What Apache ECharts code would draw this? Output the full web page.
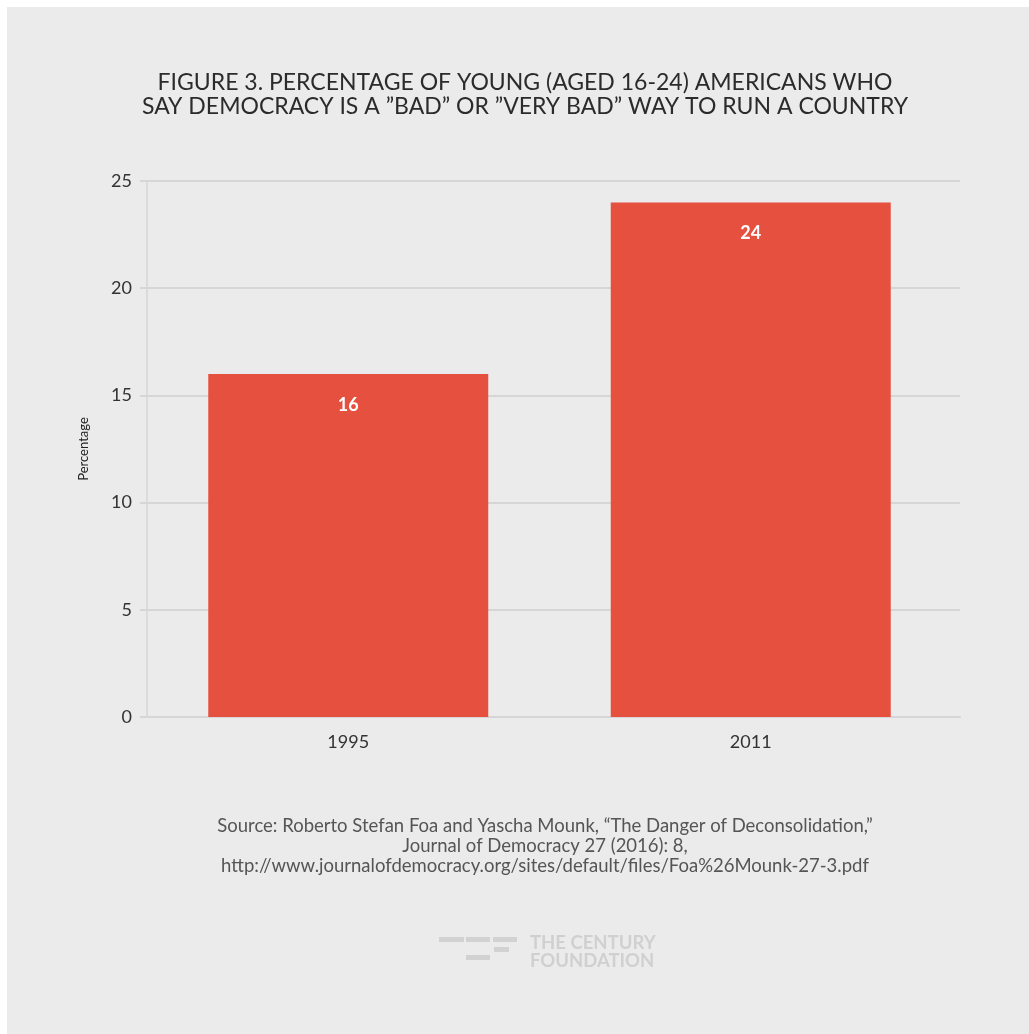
<!DOCTYPE html>
<html>
<head>
<meta charset="utf-8">
<script src="https://cdn.jsdelivr.net/npm/echarts@6/dist/echarts.min.js"></script>
<style>
html,body{margin:0;padding:0;background:#fff;}
#wrap{position:absolute;left:0;top:0;width:1029px;height:1034px;background:#fff;}
#chart{position:absolute;left:7px;top:7px;width:1022px;height:1027px;background:#ebebeb;}
</style>
</head>
<body>
<div id="wrap"><div id="chart"></div></div>
<script>
const categories = ['1995', '2011'];
const values = [16, 24];
const yMin = 0, yMax = 25, yStep = 5;
const titleLines = ['FIGURE 3. PERCENTAGE OF YOUNG (AGED 16-24) AMERICANS WHO', 'SAY DEMOCRACY IS A \u201DBAD\u201D OR \u201DVERY BAD\u201D WAY TO RUN A COUNTRY'];
const sourceLines = [
  'Source: Roberto Stefan Foa and Yascha Mounk, \u201CThe Danger of Deconsolidation,\u201D',
  'Journal of Democracy 27 (2016): 8,',
  'http://www.journalofdemocracy.org/sites/default/files/Foa%26Mounk-27-3.pdf'
];
const yAxisName = 'Percentage';

const chart = echarts.init(document.getElementById('chart'), null, {renderer: 'canvas'});
const gridCol = '#d6d6d6';
const fontMain = 'Lato, "Open Sans", sans-serif';
const option = {
  backgroundColor: '#ebebeb',
  animation: false,
  title: {
    text: titleLines.join('\n'),
    left: 513, top: 59, textAlign: 'center',
    textStyle: {fontFamily: fontMain, fontSize: 23, fontWeight: 'normal', color: '#2b2b2b', lineHeight: 24}
  },
  grid: [
    {left: 140, right: 77, top: 174, bottom: 317},
    {left: 140, right: 69, top: 174, bottom: 317}
  ],
  xAxis: [
    {type: 'category', gridIndex: 0, data: categories,
     axisLine: {show: false}, axisTick: {show: false},
     axisLabel: {fontFamily: fontMain, fontSize: 18, color: '#333', margin: 16}},
    {type: 'category', gridIndex: 1, data: categories, show: true,
     axisLine: {show: true, lineStyle: {color: gridCol, width: 2}}, axisTick: {show: false}, axisLabel: {show: false}}
  ],
  yAxis: [
    {type: 'value', gridIndex: 0, min: yMin, max: yMax, interval: yStep, show: false, splitLine: {show: false}},
    {type: 'value', gridIndex: 1, min: yMin, max: yMax, interval: yStep,
     name: yAxisName, nameLocation: 'middle', nameGap: 57, nameRotate: 90,
     nameTextStyle: {fontFamily: fontMain, fontSize: 13, color: '#222'},
     axisLine: {show: true, lineStyle: {color: gridCol, width: 1.5}},
     axisTick: {show: true, length: 7, lineStyle: {color: gridCol, width: 2}},
     axisLabel: {fontFamily: fontMain, fontSize: 18, color: '#333', margin: 15},
     splitLine: {show: true, lineStyle: {color: gridCol, width: 2}}}
  ],
  series: [{
    type: 'bar', xAxisIndex: 0, yAxisIndex: 0, data: values,
    barWidth: 280, z: 5,
    itemStyle: {color: '#e6503f'},
    label: {show: true, position: 'insideTop', distance: 22, color: '#fff', fontWeight: 'bold', fontSize: 18, fontFamily: fontMain}
  }],
  graphic: [
    {type: 'group', z: 10, silent: true, children: [
      {type: 'text', x: 538, y: 809, style: {text: sourceLines.join('\n'), textAlign: 'center', textVerticalAlign: 'top', fontFamily: fontMain, fontSize: 18.5, lineHeight: 20, fill: '#555'}},
      {type: 'rect', shape: {x: 432, y: 930, width: 25, height: 5}, style: {fill: '#d2d2d2'}},
      {type: 'rect', shape: {x: 459, y: 930, width: 24, height: 5}, style: {fill: '#d2d2d2'}},
      {type: 'rect', shape: {x: 486, y: 930, width: 24, height: 5}, style: {fill: '#d2d2d2'}},
      {type: 'rect', shape: {x: 487, y: 940, width: 15, height: 5}, style: {fill: '#d2d2d2'}},
      {type: 'rect', shape: {x: 459, y: 948, width: 24, height: 5}, style: {fill: '#d2d2d2'}},
      {type: 'text', x: 523, y: 927, style: {text: 'THE CENTURY\nFOUNDATION', textAlign: 'left', textVerticalAlign: 'top', fontFamily: fontMain, fontWeight: 'bold', fontSize: 18.5, lineHeight: 18, fill: '#d0d0d0'}}
    ]}
  ]
};
chart.setOption(option);
</script>
</body>
</html>
